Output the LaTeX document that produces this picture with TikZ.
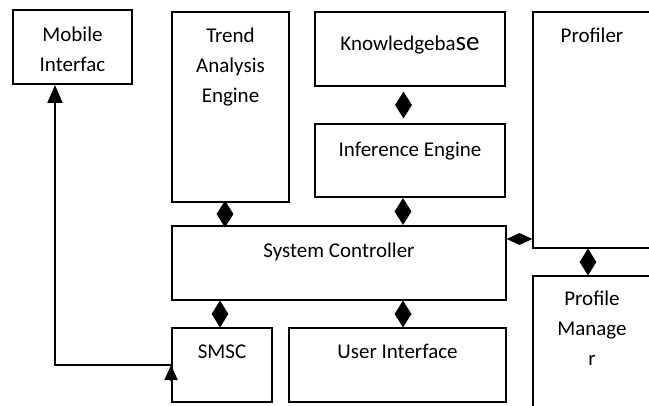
\documentclass[tikz,border=0pt]{standalone}
\usepackage{fontspec}
\setmainfont{Carlito}
\usetikzlibrary{shapes.geometric,arrows.meta}
\newcommand\boxtext[1]{\parbox[t]{330pt}{\centering #1}}
\begin{document}
\begin{tikzpicture}[x=1pt,y=-1pt,
  box/.style={draw, line width=1.9pt, inner sep=0pt},
  lbl/.style={anchor=base, inner sep=0pt, font=\fontsize{21}{30}\selectfont},
  vdia/.style={diamond, fill=black, inner sep=0pt, minimum width=17pt, minimum height=27pt},
  hdia/.style={diamond, fill=black, inner sep=0pt, minimum width=26pt, minimum height=12pt},
  conn/.style={line width=1.9pt}]
\useasboundingbox (0,0) rectangle (649,405);
\fill[white] (0,0) rectangle (649,405);
% boxes
\node[box, minimum width=119pt, minimum height=74pt] (mob) at (72.5,47) {};
\node[box, minimum width=117pt, minimum height=190pt] (trend) at (230.5,107) {};
\node[box, minimum width=190pt, minimum height=74pt] (kb) at (410,49) {};
\node[box, minimum width=190pt, minimum height=73pt] (inf) at (410,160.5) {};
\node[box, minimum width=118pt, minimum height=236pt] (prof) at (592,130) {};
\node[box, minimum width=334pt, minimum height=74pt] (sys) at (339,263) {};
\node[box, minimum width=100pt, minimum height=74pt] (smsc) at (222,365) {};
\node[box, minimum width=217pt, minimum height=74pt] (ui) at (397.5,365) {};
\node[box, minimum width=118pt, minimum height=138pt] (pm) at (592,345) {};
% labels
\node[lbl] (tmob) at ([yshift=-32pt]mob.north) {\boxtext{Mobile\\Interfac}};
\node[lbl] (ttrend) at ([yshift=-31pt]trend.north) {\boxtext{Trend\\Analysis\\Engine}};
\node[lbl] (tkb) at ([yshift=-39pt]kb.north) {\boxtext{Knowledgeba{\fontsize{27}{30}\selectfont se}}};
\node[lbl] (tinf) at ([yshift=-33pt]inf.north) {\boxtext{Inference Engine}};
\node[lbl] (tprof) at ([yshift=-31pt]prof.north) {\boxtext{Profiler}};
\node[lbl] (tsys) at ([yshift=-32pt]sys.north) {\boxtext{System Controller}};
\node[lbl] (tsmsc) at ([yshift=-31pt]smsc.north) {\boxtext{SMSC}};
\node[lbl] (tui) at ([yshift=-31pt]ui.north) {\boxtext{User Interface}};
\node[lbl] (tpm) at ([yshift=-30pt]pm.north) {\boxtext{Profile\\Manage\\r}};
% diamond connectors
\path (trend.south -| 225,0) -- (sys.north -| 225,0) node[midway, vdia] (d1) {};
\path (kb.south -| 403.5,0) -- (inf.north -| 403.5,0) node[midway, vdia] (d2) {};
\path (inf.south -| 403,0) -- (sys.north -| 403,0) node[midway, vdia] (d3) {};
\path (sys.south -| 220,0) -- (smsc.north -| 220,0) node[midway, vdia] (d4) {};
\path (sys.south -| 403,0) -- (ui.north -| 403,0) node[midway, vdia] (d5) {};
\path (sys.east |- 0,239) -- (prof.west |- 0,239) node[midway, hdia] (d6) {};
\path (prof.south -| 588,0) -- (pm.north -| 588,0) node[midway, vdia] (d7) {};
% arrows
\coordinate (bend) at (55,365);
\draw[conn, -{Triangle[length=18pt, width=15pt]}] (smsc.west |- bend) -- (bend) -- (bend |- mob.south);
\draw[conn, -{Triangle[length=15pt, width=13pt]}] (smsc.west |- 0,381) -- (smsc.west |- bend);
\end{tikzpicture}
\end{document}
